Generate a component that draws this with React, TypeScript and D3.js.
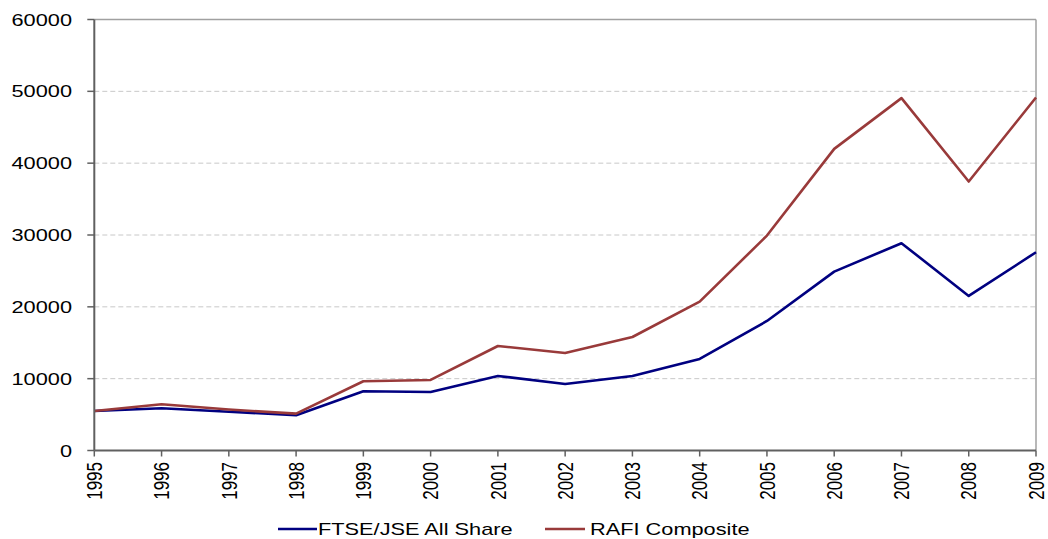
import React from "react";
import * as d3 from "d3";

// Index levels by year
const years = [1995, 1996, 1997, 1998, 1999, 2000, 2001, 2002, 2003, 2004, 2005, 2006, 2007, 2008, 2009];
const ftseJse = [5500, 5880, 5400, 4900, 8250, 8150, 10380, 9260, 10380, 12740, 18030, 24900, 28860, 21520, 27600];
const rafi = [5500, 6430, 5700, 5130, 9640, 9820, 14550, 13580, 15800, 20720, 29920, 41990, 49050, 37440, 49140];
const yTicks = [0, 10000, 20000, 30000, 40000, 50000, 60000];
const seriesNames = ["FTSE/JSE All Share", "RAFI Composite"];

const W = 1048;
const H = 539;
const left = 94.3;
const right = 1036;
const top = 19.5;
const bottom = 450.5;
const SX = 1.28; // horizontal text stretch
const FONT = "'Liberation Sans', Arial, sans-serif";

export default function App() {
  const x = d3.scalePoint<number>().domain(years).range([left, right]);
  const y = d3.scaleLinear().domain([0, 60000]).range([bottom, top]);
  const line = d3
    .line<number>()
    .x((_, i) => x(years[i]) as number)
    .y((d) => y(d));

  const series = [
    { name: seriesNames[0], values: ftseJse, color: "#000080" },
    { name: seriesNames[1], values: rafi, color: "#993a3a" },
  ];

  return (
    <svg
      width={W}
      height={H}
      style={{ position: "absolute", left: 0, top: 0, background: "#fff" }}
      fontFamily={FONT}
    >
      {/* horizontal gridlines */}
      {yTicks
        .filter((t) => t > 0 && t < 60000)
        .map((t) => (
          <line
            key={"g" + t}
            x1={left}
            x2={right}
            y1={y(t)}
            y2={y(t)}
            stroke="#c8c8c8"
            strokeWidth={1}
            strokeDasharray="5,3"
          />
        ))}
      {/* plot frame: top and right */}
      <line x1={left} x2={right} y1={top} y2={top} stroke="#a0a0a0" strokeWidth={1.5} />
      <line x1={right} x2={right} y1={top} y2={bottom} stroke="#a0a0a0" strokeWidth={1.5} />

      {/* series */}
      {series.map((s) => (
        <path
          key={s.name}
          d={line(s.values) || ""}
          fill="none"
          stroke={s.color}
          strokeWidth={2.6}
          strokeLinejoin="round"
        />
      ))}

      {/* y axis */}
      <line x1={left} x2={left} y1={top} y2={bottom} stroke="#606060" strokeWidth={2} />
      {yTicks.map((t) => (
        <g key={"y" + t}>
          <line x1={left - 7} x2={left} y1={y(t)} y2={y(t)} stroke="#606060" strokeWidth={1.5} />
          <text
            transform={`translate(72,${y(t) + 6}) scale(${SX},1)`}
            textAnchor="end"
            fontSize={17}
            fill="#000"
          >
            {t}
          </text>
        </g>
      ))}

      {/* x axis */}
      <line x1={left} x2={right} y1={bottom} y2={bottom} stroke="#606060" strokeWidth={2} />
      {years.map((yr) => {
        const px = x(yr) as number;
        return (
          <g key={"x" + yr}>
            <line x1={px} x2={px} y1={bottom} y2={bottom + 6} stroke="#606060" strokeWidth={1.5} />
            <text
              transform={`translate(${px},462) scale(${SX},1) rotate(-90)`}
              textAnchor="end"
              x={0}
              y={6}
              fontSize={17}
              fill="#000"
            >
              {yr}
            </text>
          </g>
        );
      })}

      {/* legend */}
      <line x1={278} x2={317} y1={529} y2={529} stroke={series[0].color} strokeWidth={2.6} />
      <text transform={`translate(318,535) scale(${SX},1)`} fontSize={17} fill="#000">
        {series[0].name}
      </text>
      <line x1={545} x2={585} y1={529} y2={529} stroke={series[1].color} strokeWidth={2.6} />
      <text transform={`translate(590,535) scale(${SX},1)`} fontSize={17} fill="#000">
        {series[1].name}
      </text>
    </svg>
  );
}
